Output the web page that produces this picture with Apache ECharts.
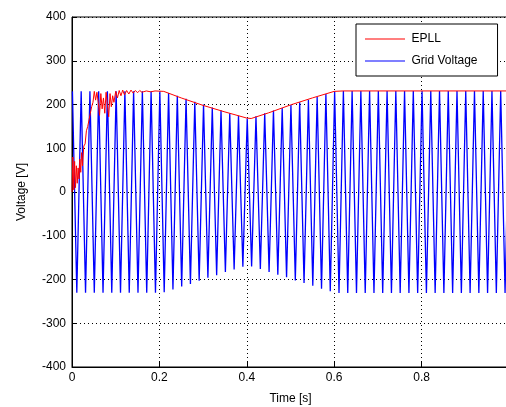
<!DOCTYPE html>
<html>
<head>
<meta charset="utf-8">
<script src="https://cdn.jsdelivr.net/npm/echarts@6/dist/echarts.min.js"></script>
<style>
  html, body { margin: 0; padding: 0; background: #fff; }
  #chart { width: 506px; height: 407px; }
</style>
</head>
<body>
<div id="chart"></div>
<script>
// x axis ticks
const xTicks = [0, 0.2, 0.4, 0.6, 0.8, 1]

// grid voltage: time of the first peak, spacing between half-cycle peaks
const gridFirstPeak = 0.001
const gridHalfPeriod = 0.01
// peak magnitude of each half cycle (sign alternates)
const gridPeaks = [
  230, 230, 230, 230, 230, 230, 230, 230, 230, 230,
  230, 230, 230, 230, 230, 230, 230, 230, 230, 230,
  230, 229, 226, 223, 220, 216, 213, 210, 206, 203,
  200, 196, 193, 190, 187, 183, 180, 177, 174, 171,
  168, 170, 173, 176, 180, 183, 186, 189, 192, 195,
  199, 202, 205, 208, 211, 214, 217, 221, 224, 227,
  230, 231, 231, 231, 231, 231, 231, 231, 231, 231,
  231, 231, 231, 231, 231, 231, 231, 231, 231, 231,
  231, 231, 231, 231, 231, 231, 231, 231, 231, 231,
  231, 231, 231, 231, 231, 231, 231, 231, 231, 231
]

// EPLL amplitude estimate
const epllTime = [
  0, 0.002, 0.004, 0.006, 0.008, 0.010, 0.012, 0.014, 0.016, 0.018,
  0.020, 0.022, 0.024, 0.027, 0.030, 0.033, 0.036, 0.039, 0.042, 0.045,
  0.048, 0.051, 0.054, 0.057, 0.060, 0.063, 0.066, 0.069, 0.072, 0.075,
  0.078, 0.081, 0.084, 0.087, 0.090, 0.093, 0.096, 0.100, 0.104, 0.108,
  0.112, 0.116, 0.120, 0.125, 0.130, 0.135, 0.140, 0.145, 0.150, 0.155,
  0.160, 0.170, 0.180, 0.190, 0.210, 0.250, 0.300, 0.350, 0.400, 0.410,
  0.450, 0.500, 0.550, 0.600, 0.620, 1.0
]
const epllValue = [
  0, 80, 5, 70, 10, 60, 20, 55, 30, 75,
  45, 90, 60, 105, 110, 140, 150, 165, 180, 195,
  205, 230, 210, 228, 205, 175, 225, 190, 215, 180,
  228, 200, 172, 225, 195, 220, 205, 230, 215, 232,
  220, 233, 222, 232, 224, 233, 226, 232, 227, 232,
  228, 231, 229, 231, 230, 215, 198, 183, 169, 168,
  181, 199, 215, 230, 231, 231
]

const gridData = []
gridPeaks.forEach((a, k) => {
  const t = gridFirstPeak + k * gridHalfPeriod
  gridData.push([t, k % 2 === 0 ? a : -a])
  gridData.push([t + gridHalfPeriod / 2, 0])
})
const epllData = epllTime.map((t, i) => [t, epllValue[i]])

const font = 'Liberation Sans, Arial, sans-serif'
const chart = echarts.init(document.getElementById('chart'))

chart.setOption({
  animation: false,
  backgroundColor: '#fff',
  grid: {
    left: 72, right: -3, top: 17, bottom: 40,
    outerBoundsMode: 'none',
    show: true, borderColor: '#000', borderWidth: 1
  },
  legend: {
    orient: 'vertical',
    left: 356, top: 24,
    data: ['EPLL', 'Grid Voltage'],
    icon: 'path://M0,0 L40,0 L40,1 L0,1 Z',
    itemWidth: 43, itemHeight: 1,
    itemGap: 10,
    padding: [9, 20, 9, 9],
    borderColor: '#000', borderWidth: 1, borderRadius: 0,
    backgroundColor: '#fff',
    textStyle: { color: '#000', fontSize: 12, fontFamily: font }
  },
  xAxis: {
    type: 'value',
    min: xTicks[0], max: xTicks[xTicks.length - 1], interval: 0.2,
    name: 'Time [s]', nameLocation: 'middle', nameGap: 26,
    nameTextStyle: { color: '#000', fontSize: 12, fontFamily: font },
    axisLine: { show: true, onZero: false, lineStyle: { color: '#000' } },
    axisTick: { show: true, inside: true, length: 5, lineStyle: { color: '#000' } },
    axisLabel: { color: '#000', fontSize: 12, fontFamily: font, margin: 5 },
    splitLine: { show: true, lineStyle: { color: '#000', type: [1, 3], width: 1 } }
  },
  yAxis: {
    type: 'value',
    min: -400, max: 400, interval: 100,
    name: 'Voltage [V]', nameLocation: 'middle', nameGap: 44,
    nameTextStyle: { color: '#000', fontSize: 12, fontFamily: font },
    axisLine: { show: true, onZero: false, lineStyle: { color: '#000' } },
    axisTick: { show: true, inside: true, length: 5, lineStyle: { color: '#000' } },
    axisLabel: { color: '#000', fontSize: 12, fontFamily: font, margin: 6 },
    splitLine: { show: true, lineStyle: { color: '#000', type: [1, 3], width: 1 } }
  },
  series: [
    {
      name: 'Grid Voltage',
      type: 'line',
      data: gridData,
      showSymbol: false,
      symbol: 'none',
      lineStyle: { color: '#0000ff', width: 1.3 },
      itemStyle: { color: '#0000ff' },
      z: 2
    },
    {
      name: 'EPLL',
      type: 'line',
      data: epllData,
      showSymbol: false,
      symbol: 'none',
      lineStyle: { color: '#ff0000', width: 1 },
      itemStyle: { color: '#ff0000' },
      z: 3
    }
  ]
})
</script>
</body>
</html>
